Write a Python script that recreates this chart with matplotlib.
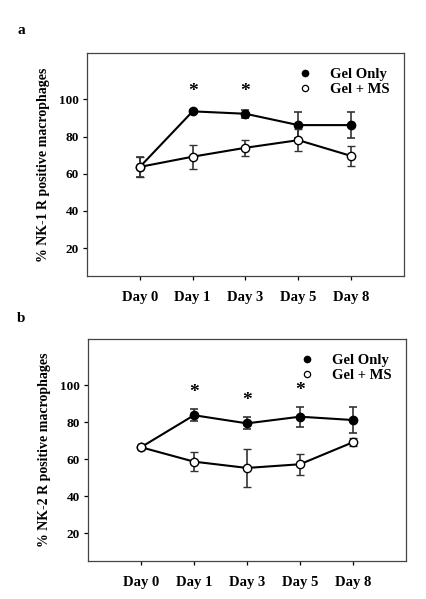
import numpy as np
import matplotlib.pyplot as plt
from matplotlib.lines import Line2D

plt.rcParams['font.family'] = ['Liberation Serif', 'DejaVu Serif']
plt.rcParams['font.weight'] = 'bold'

days = ['Day 0', 'Day 1', 'Day 3', 'Day 5', 'Day 8']

# panel a: NK-1 R
a_gel = [63.7, 93.6, 92.3, 86.2, 86.2]
a_gel_err = [5.2, 0.8, 2.1, 7.0, 7.1]
a_ms = [63.7, 69.2, 74.0, 78.1, 69.6]
a_ms_err = [5.2, 6.5, 4.4, 6.0, 5.6]
a_stars = [1, 2]
a_star_y = 104.5

# panel b: NK-2 R
b_gel = [66.5, 83.8, 79.4, 83.0, 81.2]
b_gel_err = [0.9, 3.1, 3.2, 5.4, 7.2]
b_ms = [66.5, 58.7, 55.3, 57.3, 69.2]
b_ms_err = [0.9, 5.2, 10.5, 5.7, 2.2]
b_stars = [1, 2, 3]
b_star_y = [96.0, 91.5, 97.4]

fig = plt.figure(figsize=(4.26, 5.99), dpi=100)
W, H = 426, 599


def panel(rect, gel, gel_err, ms, ms_err, ylabel, stars, star_y, letter, letter_y):
    l, t, r, b = rect
    ax = fig.add_axes([l / W, 1 - b / H, (r - l) / W, (b - t) / H])
    x = np.arange(len(days))
    ecol = '#333333'
    ax.errorbar(x, gel, yerr=gel_err, color='black', ecolor=ecol, elinewidth=1.2,
                capsize=2.8, capthick=1.2, lw=1.5, marker='o', ms=6,
                mfc='black', mec='black', zorder=3)
    ax.errorbar(x, ms, yerr=ms_err, color='black', ecolor=ecol, elinewidth=1.2,
                capsize=2.8, capthick=1.2, lw=1.5, marker='o', ms=6,
                mfc='white', mec='black', mew=1.0, zorder=4)
    for i, s in enumerate(stars):
        yy = star_y[i] if isinstance(star_y, list) else star_y
        ax.text(s, yy, '*', ha='center', va='center', fontsize=14, fontweight='bold')
    ax.set_xlim(-1, 5)
    ax.set_ylim(5, 125)
    ax.set_yticks([20, 40, 60, 80, 100])
    ax.set_xticks(x)
    ax.set_xticklabels(days)
    ax.tick_params(axis='y', labelsize=9.5, length=3, width=0.9, direction='out', pad=3)
    ax.tick_params(axis='x', labelsize=10.5, length=3, width=0.9, direction='out', pad=8)
    for sp in ax.spines.values():
        sp.set_linewidth(0.9)
        sp.set_color('#444444')
    ax.set_ylabel(ylabel, fontsize=10, fontweight='bold', labelpad=6)
    handles = [
        Line2D([], [], ls='none', marker='o', ms=4.5, mfc='black', mec='black'),
        Line2D([], [], ls='none', marker='o', ms=4.5, mfc='white', mec='black', mew=0.9),
    ]
    ax.legend(handles, ['Gel Only', 'Gel + MS'], loc='upper right',
              bbox_to_anchor=(0.992, 0.985), frameon=False,
              fontsize=10.5, handlelength=1.0, handletextpad=1.2,
              labelspacing=0.12, numpoints=1, borderpad=0.3)
    fig.text(17 / W, 1 - letter_y / H, letter, fontsize=11, fontweight='bold',
             va='center', ha='left')
    return ax


panel((87, 53, 404, 276), a_gel, a_gel_err, a_ms, a_ms_err,
      '% NK-1 R positive macrophages', a_stars, a_star_y, 'a', 31)
panel((88, 339, 406, 561), b_gel, b_gel_err, b_ms, b_ms_err,
      '% NK-2 R positive macrophages', b_stars, b_star_y, 'b', 318)

fig.savefig('out.png', dpi=100)
